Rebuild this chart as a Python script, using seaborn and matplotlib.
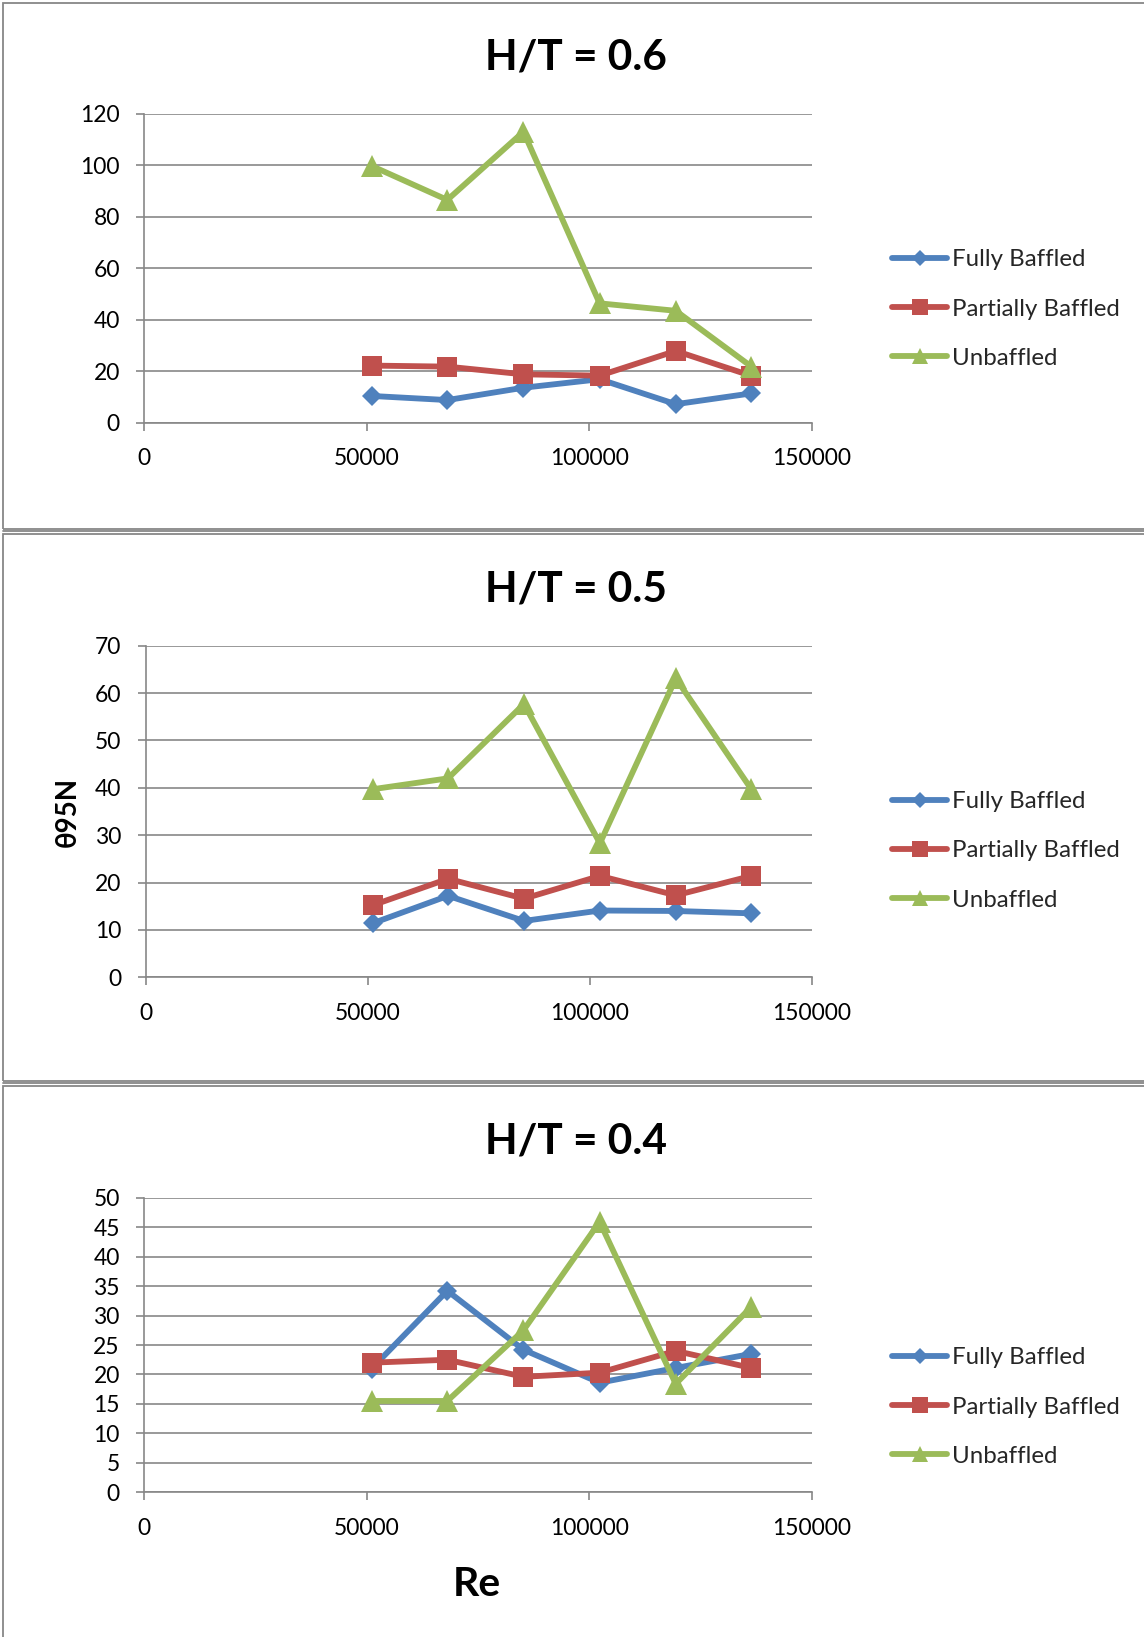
import matplotlib
matplotlib.use("Agg")
import matplotlib.pyplot as plt
from matplotlib.lines import Line2D
from matplotlib.patches import Rectangle
import numpy as np
import pandas as pd
import seaborn as sns

# Reynolds numbers tested
re_numbers = [51100, 68100, 85200, 102300, 119400, 136400]
configs = ["Fully Baffled", "Partially Baffled", "Unbaffled"]

# Dimensionless mixing time (theta95 * N) for each liquid height ratio
ht06_fully = [10.4, 8.8, 13.6, 16.9, 7.2, 11.4]
ht06_partial = [22.2, 21.8, 18.8, 18.3, 27.9, 18.2]
ht06_unbaffled = [99.8, 86.6, 113.1, 46.4, 43.5, 21.8]

ht05_fully = [11.4, 17.2, 11.9, 14.1, 14.0, 13.5]
ht05_partial = [15.2, 20.8, 16.6, 21.4, 17.3, 21.4]
ht05_unbaffled = [39.7, 42.0, 57.7, 28.3, 63.1, 39.7]

ht04_fully = [21.0, 34.2, 24.2, 18.6, 21.1, 23.5]
ht04_partial = [22.0, 22.5, 19.6, 20.3, 24.0, 21.1]
ht04_unbaffled = [15.5, 15.5, 27.5, 45.9, 18.4, 31.5]

panel_titles = ["H/T = 0.6", "H/T = 0.5", "H/T = 0.4"]
y_ticks = [np.arange(0, 121, 20), np.arange(0, 71, 10), np.arange(0, 51, 5)]
x_ticks = [0, 50000, 100000, 150000]
panel_series = [
    (ht06_fully, ht06_partial, ht06_unbaffled),
    (ht05_fully, ht05_partial, ht05_unbaffled),
    (ht04_fully, ht04_partial, ht04_unbaffled),
]

colors = {"Fully Baffled": "#4F81BD", "Partially Baffled": "#C0504D", "Unbaffled": "#9BBB59"}
markers = {"Fully Baffled": "D", "Partially Baffled": "s", "Unbaffled": "^"}
marker_px = {"D": 10.6, "s": 14.6, "^": 15.2}
grid_color = "#878787"
line_w = 4.2

sns.set_theme(style="white")
plt.rcParams["font.family"] = ["Lato", "DejaVu Sans"]

W, H = 1144, 1637
fig = plt.figure(figsize=(W / 100, H / 100), dpi=100)


def fx(px):
    return px / W


def fy(py):
    return 1 - py / H


# panel layout in pixels: (axes left, axes right, axes top, axes bottom, title y, frame top, frame bottom, legend mid y)
layout = [
    (144.1, 812.0, 114.0, 422.7, 57.0, 3, 529, 307),
    (145.7, 811.7, 645.7, 977.3, 590.0, 534, 1081, 849),
    (144.1, 812.0, 1197.7, 1492.3, 1141.5, 1086, 1645, 1405),
]

for i, (left, right, top, bottom, ty, f_top, f_bot, leg_y) in enumerate(layout):
    # chart frame
    fig.add_artist(Rectangle((fx(2.5), fy(f_bot)), fx(1200), (f_bot - f_top) / H,
                             transform=fig.transFigure, fill=False,
                             edgecolor=grid_color, lw=1.3))
    fig.add_artist(Line2D([fx(2.5), 1.0], [fy(f_bot + 1.5), fy(f_bot + 1.5)],
                          transform=fig.transFigure, color=grid_color, lw=1.3))

    ax = fig.add_axes([fx(left), fy(bottom), (right - left) / W, (bottom - top) / H])
    fully, partial, unb = panel_series[i]
    df = pd.DataFrame({
        "Re": re_numbers * 3,
        "value": fully + partial + unb,
        "config": np.repeat(configs, len(re_numbers)),
    })
    sns.lineplot(data=df, x="Re", y="value", hue="config", style="config",
                 palette=colors, markers=markers, dashes=False, sort=False,
                 linewidth=line_w, markeredgewidth=0, legend=False, ax=ax)
    for ln in ax.lines:
        m = ln.get_marker()
        if m in marker_px:
            ln.set_markersize(marker_px[m])

    yt = y_ticks[i]
    ax.set_xlim(0, 150000)
    ax.set_ylim(yt[0], yt[-1])
    ax.set_xticks(x_ticks)
    ax.set_xticklabels([str(v) for v in x_ticks])
    ax.set_yticks(yt)
    ax.set_yticklabels([str(v) for v in yt])
    ax.yaxis.grid(True, color=grid_color, lw=1.2)
    ax.set_axisbelow(True)
    for s in ["top", "right"]:
        ax.spines[s].set_visible(False)
    for s in ["left", "bottom"]:
        ax.spines[s].set_color(grid_color)
        ax.spines[s].set_linewidth(1.2)
    ax.tick_params(axis="both", which="major", direction="out", length=5.5,
                   width=1.2, color=grid_color, labelsize=16.5, labelcolor="black")
    ax.tick_params(axis="x", pad=13, bottom=True)
    ax.tick_params(axis="y", pad=12, left=True)
    ax.set_xlabel("")
    ax.set_ylabel("")

    fig.text(fx(576), fy(ty), panel_titles[i], ha="center", va="center",
             fontsize=30.5, fontweight="bold", color="black")

    handles = [Line2D([], [], color=colors[c], marker=markers[c], lw=line_w,
                      markersize=marker_px[markers[c]] * 0.8, markeredgewidth=0)
               for c in configs]
    ax.legend(handles, configs, loc="center left",
              bbox_to_anchor=(fx(892), fy(leg_y + 2)), bbox_transform=fig.transFigure,
              frameon=False, fontsize=17.3, borderpad=0, borderaxespad=0,
              handlelength=2.3, handletextpad=0.2, labelspacing=1.17, numpoints=1)

fig.text(fx(68), fy(812), "θ95N", rotation=90, ha="center", va="center",
         fontsize=20, fontweight="bold", color="black")
fig.text(fx(477), fy(1585), "Re", ha="center", va="center",
         fontsize=29.5, fontweight="bold", color="black")

fig.savefig("out.png", dpi=100)
